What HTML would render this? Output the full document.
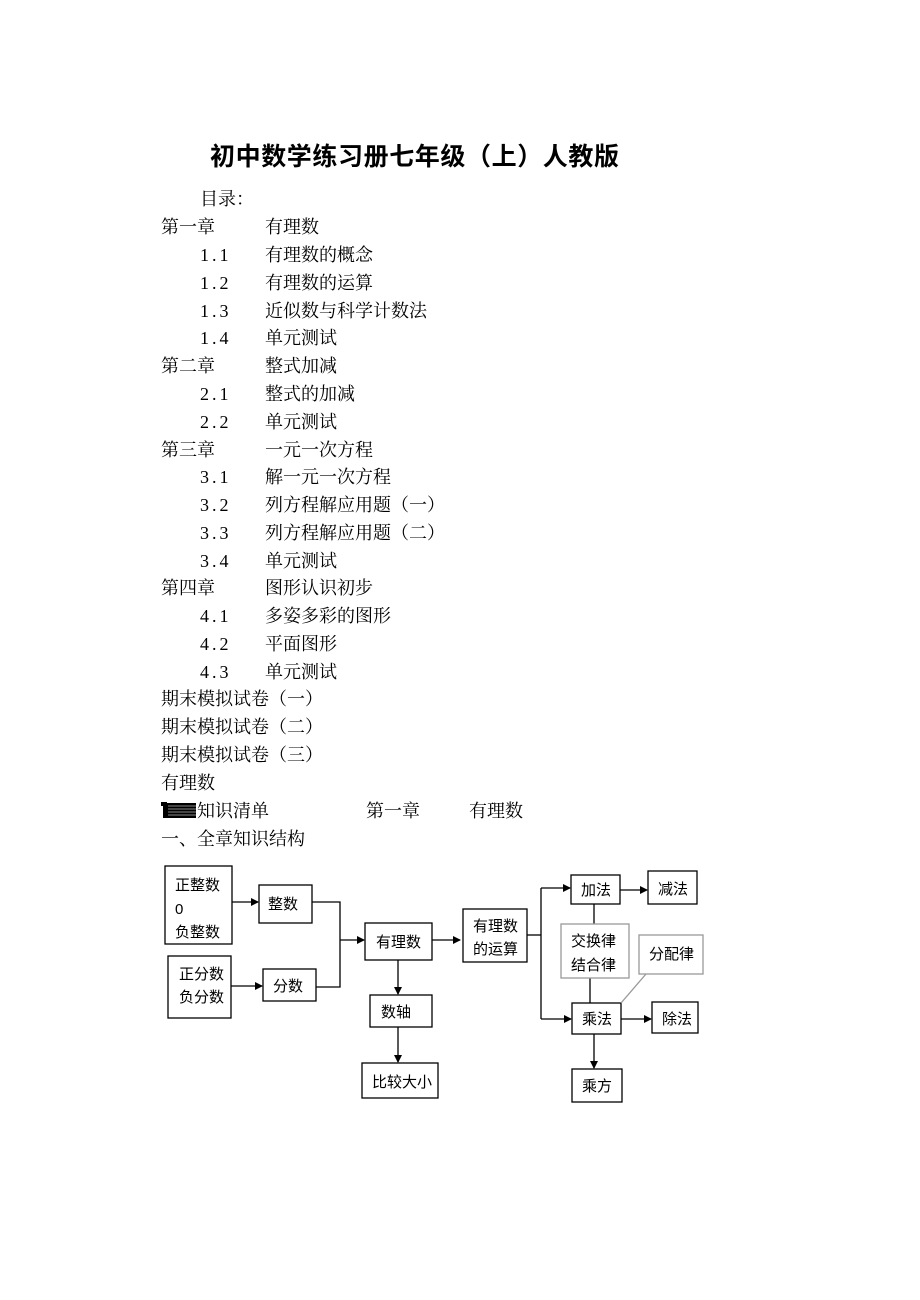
<!DOCTYPE html>
<html><head><meta charset="utf-8"><style>
body{margin:0;width:920px;height:1300px;background:#fff;position:relative;overflow:hidden;font-family:"Liberation Serif","Noto Serif CJK SC",serif;color:#000}
.t{position:absolute;font-size:18px;line-height:20px;white-space:nowrap;top:0}
.n{letter-spacing:3px}
.title{position:absolute;left:210px;top:142px;font-family:"Liberation Sans","Noto Sans CJK SC",sans-serif;font-weight:bold;font-size:25px;line-height:30px;letter-spacing:0.6px;white-space:nowrap}
svg{position:absolute;left:0;top:0}
svg text{font-family:"Liberation Sans","Noto Sans CJK SC",sans-serif;font-size:15px}
</style></head><body>
<div class="title">初中数学练习册七年级（上）人教版</div>
<div class="t" style="left:200px;top:189px">目录：</div>
<div class="t" style="left:161px;top:217px">第一章</div><div class="t" style="left:265px;top:217px">有理数</div>
<div class="t n" style="left:200px;top:245px">1.1</div><div class="t" style="left:265px;top:245px">有理数的概念</div>
<div class="t n" style="left:200px;top:273px">1.2</div><div class="t" style="left:265px;top:273px">有理数的运算</div>
<div class="t n" style="left:200px;top:301px">1.3</div><div class="t" style="left:265px;top:301px">近似数与科学计数法</div>
<div class="t n" style="left:200px;top:328px">1.4</div><div class="t" style="left:265px;top:328px">单元测试</div>
<div class="t" style="left:161px;top:356px">第二章</div><div class="t" style="left:265px;top:356px">整式加减</div>
<div class="t n" style="left:200px;top:384px">2.1</div><div class="t" style="left:265px;top:384px">整式的加减</div>
<div class="t n" style="left:200px;top:412px">2.2</div><div class="t" style="left:265px;top:412px">单元测试</div>
<div class="t" style="left:161px;top:440px">第三章</div><div class="t" style="left:265px;top:440px">一元一次方程</div>
<div class="t n" style="left:200px;top:467px">3.1</div><div class="t" style="left:265px;top:467px">解一元一次方程</div>
<div class="t n" style="left:200px;top:495px">3.2</div><div class="t" style="left:265px;top:495px">列方程解应用题（一）</div>
<div class="t n" style="left:200px;top:523px">3.3</div><div class="t" style="left:265px;top:523px">列方程解应用题（二）</div>
<div class="t n" style="left:200px;top:551px">3.4</div><div class="t" style="left:265px;top:551px">单元测试</div>
<div class="t" style="left:161px;top:578px">第四章</div><div class="t" style="left:265px;top:578px">图形认识初步</div>
<div class="t n" style="left:200px;top:606px">4.1</div><div class="t" style="left:265px;top:606px">多姿多彩的图形</div>
<div class="t n" style="left:200px;top:634px">4.2</div><div class="t" style="left:265px;top:634px">平面图形</div>
<div class="t n" style="left:200px;top:662px">4.3</div><div class="t" style="left:265px;top:662px">单元测试</div>
<div class="t" style="left:161px;top:689px">期末模拟试卷（一）</div>
<div class="t" style="left:161px;top:717px">期末模拟试卷（二）</div>
<div class="t" style="left:161px;top:745px">期末模拟试卷（三）</div>
<div class="t" style="left:161px;top:773px">有理数</div>
<div class="t" style="left:197px;top:801px">知识清单</div>
<div class="t" style="left:366px;top:801px">第一章</div><div class="t" style="left:469px;top:801px">有理数</div>
<div class="t" style="left:161px;top:829px">一、全章知识结构</div>
<svg width="920" height="1300">
<defs><marker id="a" markerWidth="8" markerHeight="8" refX="7" refY="4" orient="auto" markerUnits="userSpaceOnUse"><path d="M0,0 L8,4 L0,8z" fill="#000"/></marker></defs>
<rect x="161" y="802" width="5" height="4" fill="#000"/><rect x="163" y="802" width="4" height="16" fill="#000"/>
<rect x="167" y="803" width="29" height="15" fill="#000"/>
<g stroke="#888" stroke-width="1"><line x1="168" y1="806" x2="196" y2="806"/><line x1="168" y1="809" x2="196" y2="809"/><line x1="168" y1="812" x2="196" y2="812"/><line x1="168" y1="815" x2="196" y2="815"/></g>
<g fill="none" stroke="#000" stroke-width="1.3">
<rect x="165" y="866" width="67" height="78"/>
<rect x="259" y="885" width="53" height="38"/>
<rect x="168" y="956" width="63" height="62"/>
<rect x="263" y="969" width="53" height="32"/>
<rect x="365" y="923" width="67" height="37"/>
<rect x="370" y="995" width="62" height="32"/>
<rect x="362" y="1063" width="76" height="35"/>
<rect x="463" y="909" width="64" height="53"/>
<rect x="571" y="875" width="49" height="29"/>
<rect x="648" y="871" width="49" height="33"/>
<rect x="572" y="1003" width="49" height="31"/>
<rect x="652" y="1002" width="46" height="31"/>
<rect x="572" y="1069" width="50" height="33"/>
<line x1="232" y1="902" x2="258" y2="902" marker-end="url(#a)"/>
<line x1="231" y1="986" x2="262" y2="986" marker-end="url(#a)"/>
<polyline points="312,902 340,902 340,987 316,987"/>
<line x1="340" y1="940" x2="364" y2="940" marker-end="url(#a)"/>
<line x1="432" y1="940" x2="460" y2="940" marker-end="url(#a)"/>
<line x1="398" y1="960" x2="398" y2="994" marker-end="url(#a)"/>
<line x1="398" y1="1027" x2="398" y2="1062" marker-end="url(#a)"/>
<polyline points="527,935 541,935"/>
<line x1="541" y1="888" x2="541" y2="1019"/>
<line x1="541" y1="888" x2="570" y2="888" marker-end="url(#a)"/>
<line x1="541" y1="1019" x2="571" y2="1019" marker-end="url(#a)"/>
<line x1="620" y1="890" x2="647" y2="890" marker-end="url(#a)"/>
<line x1="621" y1="1019" x2="651" y2="1019" marker-end="url(#a)"/>
<line x1="594" y1="1034" x2="594" y2="1068" marker-end="url(#a)"/>
<line x1="594" y1="904" x2="594" y2="924"/>
<line x1="590" y1="978" x2="590" y2="1003"/>
</g>
<g fill="none" stroke="#999" stroke-width="1.3">
<rect x="561" y="924" width="68" height="54"/>
<rect x="639" y="935" width="64" height="39"/>
<line x1="621" y1="1003" x2="646" y2="974"/>
</g>
<text x="175" y="890">正整数</text><text x="175" y="914">0</text><text x="175" y="937">负整数</text>
<text x="268" y="909">整数</text>
<text x="179" y="979">正分数</text><text x="179" y="1002">负分数</text>
<text x="273" y="991">分数</text>
<text x="376" y="947">有理数</text>
<text x="381" y="1017">数轴</text>
<text x="372" y="1087">比较大小</text>
<text x="473" y="931">有理数</text><text x="473" y="954">的运算</text>
<text x="581" y="895">加法</text>
<text x="658" y="894">减法</text>
<text x="571" y="946">交换律</text><text x="571" y="970">结合律</text>
<text x="649" y="959">分配律</text>
<text x="582" y="1024">乘法</text>
<text x="662" y="1024">除法</text>
<text x="582" y="1091">乘方</text>
</svg>
</body></html>
